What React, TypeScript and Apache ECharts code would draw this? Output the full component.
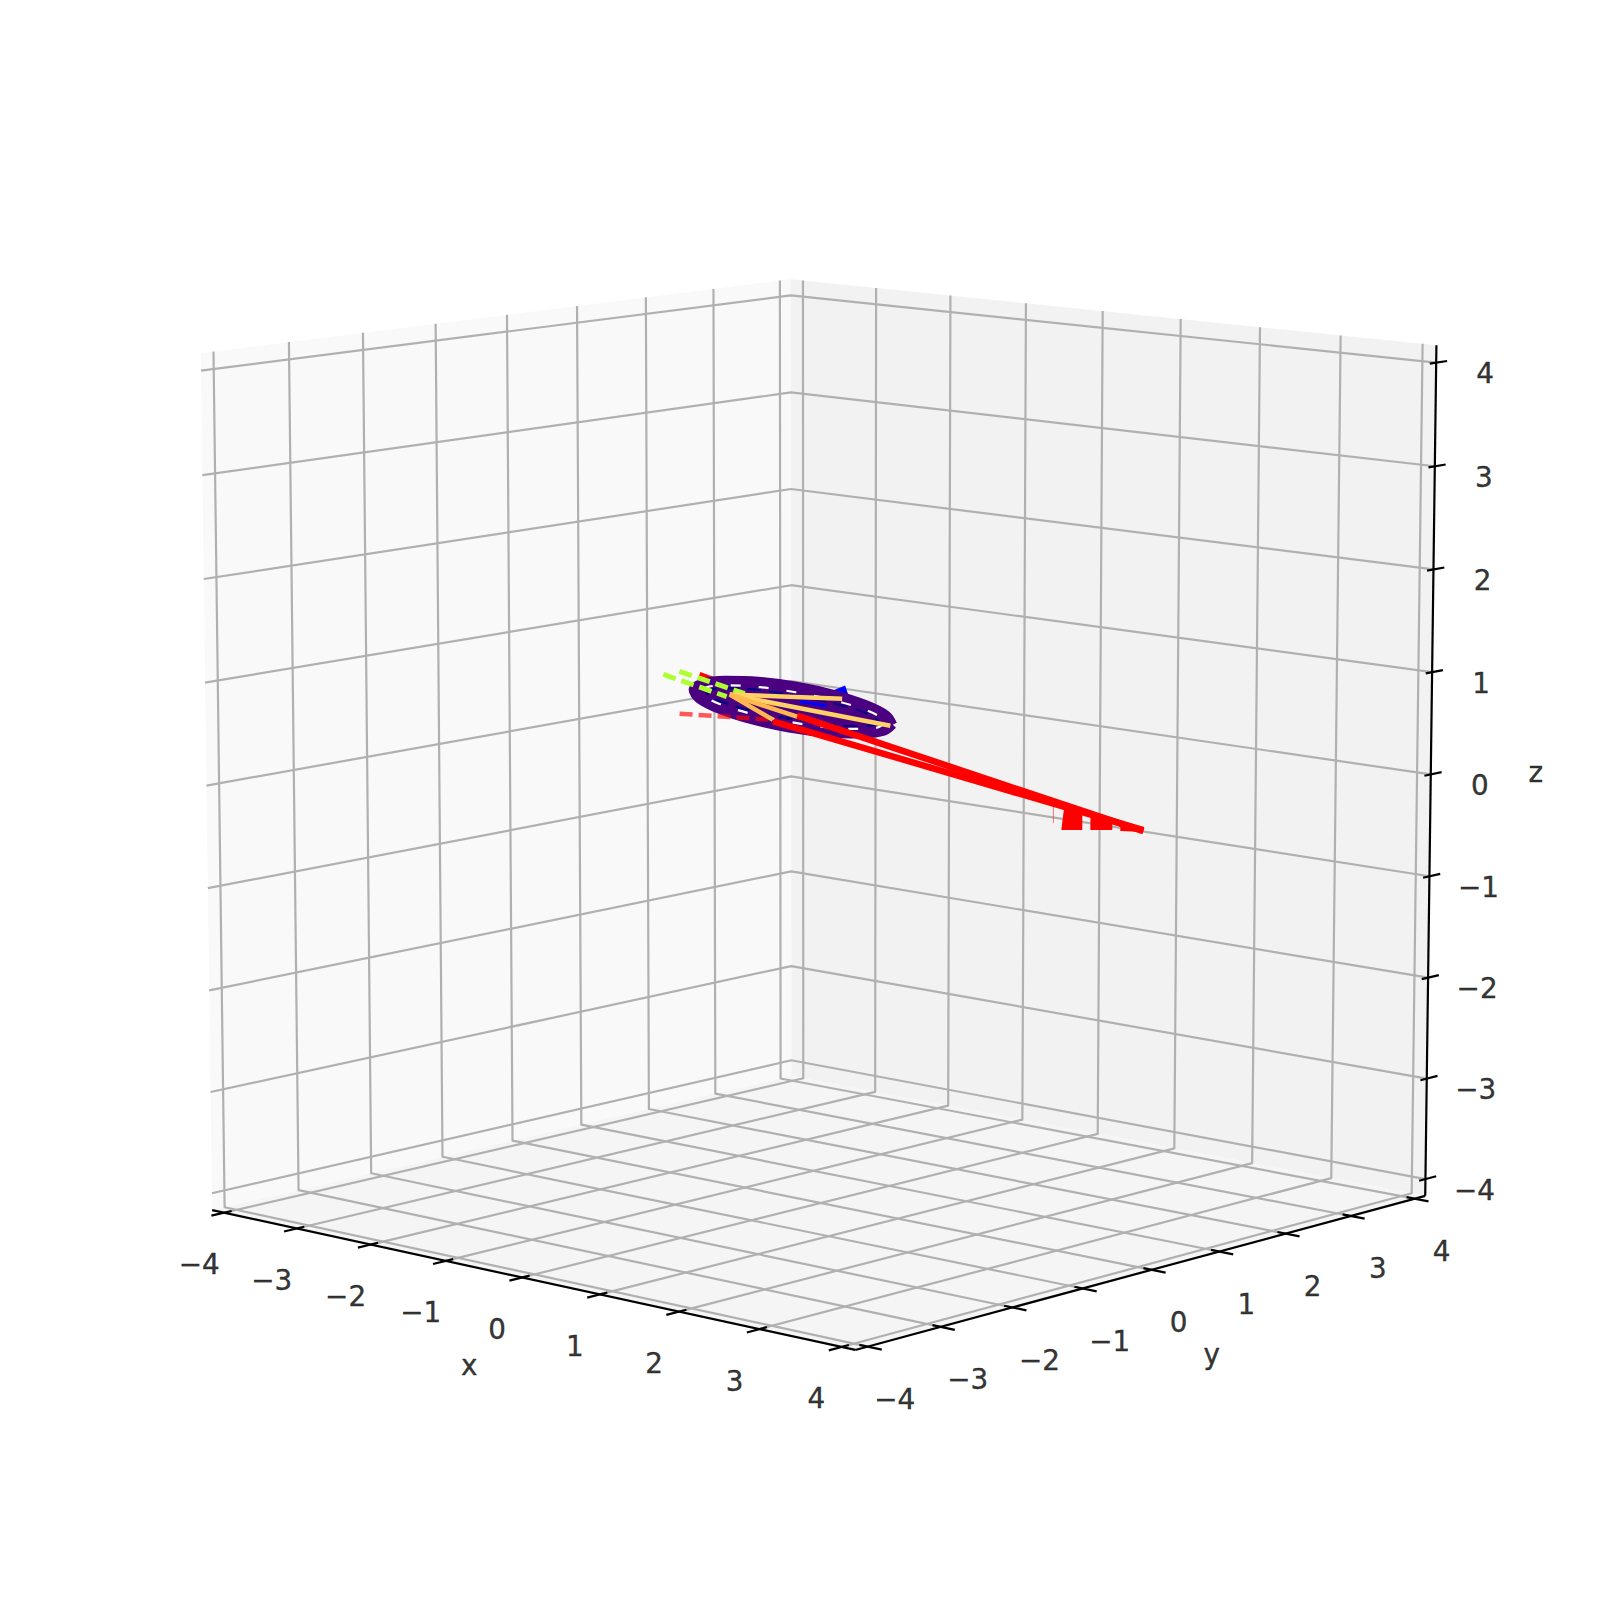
import React, { useEffect, useRef } from "react";
import * as echarts from "echarts";

// Axis ticks and labels
const tickValues = [-4, -3, -2, -1, 0, 1, 2, 3, 4];
const tickLabels = ["−4", "−3", "−2", "−1", "0", "1", "2", "3", "4"];

// All marks lie in the plane y = 0.9 x; each mark is listed as x and z values
const ringX = [0.533, 0.469, 0.306, 0.07, -0.205, -0.475, -0.7, -0.847, -0.891, -0.827, -0.664, -0.428, -0.153, 0.117, 0.342, 0.489];
const ringZ = [0.492, 0.427, 0.399, 0.409, 0.458, 0.539, 0.638, 0.74, 0.83, 0.895, 0.923, 0.913, 0.864, 0.783, 0.684, 0.582];
const whiteX = [0.477, 0.42, 0.272, 0.055, -0.198, -0.448, -0.656, -0.792, -0.835, -0.778, -0.63, -0.413, -0.16, 0.09, 0.298, 0.434];
const whiteZ = [0.505, 0.461, 0.449, 0.467, 0.516, 0.587, 0.668, 0.749, 0.817, 0.861, 0.873, 0.855, 0.806, 0.735, 0.654, 0.573];
const navyX = [0.435, 0.382, 0.244, 0.042, -0.194, -0.427, -0.624, -0.752, -0.793, -0.74, -0.602, -0.4, -0.164, 0.069, 0.266, 0.394];
const navyZ = [0.515, 0.482, 0.477, 0.498, 0.545, 0.61, 0.683, 0.752, 0.807, 0.84, 0.845, 0.824, 0.777, 0.712, 0.639, 0.57];

const blueHeadX = [0.193, 0.215, 0.072];
const blueHeadZ = [0.871, 0.783, 0.803];
const blueShaftX = [-0.129, 0.057];
const blueShaftZ = [0.715, 0.675];

const redThinX = [-0.845, -0.129];
const redThinZ = [0.979, 0.617];
const redInsideX = [-0.523, -0.308];
const redInsideZ = [0.783, 0.685];
const redUpperX = [-0.15, 2.327];
const redUpperZ = [0.578, -0.548];
const redLowerX = [-0.322, 2.327];
const redLowerZ = [0.523, -0.538];
const redDashX = [-0.988, -0.322];
const redDashZ = [0.597, 0.538];
const redFaintX = [1.683, 1.683];
const redFaintZ = [-0.313, -0.47];

const bar1X = [1.74, 1.89, 1.89, 1.761];
const bar1Z = [-0.538, -0.538, -0.362, -0.303];
const bar2X = [1.948, 2.105, 2.105, 1.948];
const bar2Z = [-0.538, -0.538, -0.441, -0.372];
const bar3X = [2.162, 2.327, 2.327, 2.162];
const bar3Z = [-0.548, -0.558, -0.529, -0.45];

const green1X = [-0.988, -0.523];
const green1Z = [1.008, 0.793];
const green2X = [-1.103, -0.652];
const green2Z = [0.979, 0.764];

const orangeHubX = -0.63;
const orangeHubZ = 0.783;
const orangeEndX = [0.172, 0.516, -0.15, -0.322];
const orangeEndZ = [0.744, 0.48, 0.568, 0.538];

// Camera
const ELEV = (10 * Math.PI) / 180;
const AZIM = (-48 * Math.PI) / 180;
const DIST = 10.8;
const WORLD = 0.1375;
const S = 8170;
const CX = 821;
const CY = 780;
const L = 4.167;
const PLANE_X = -0.021;
const PLANE_Z = 0.049;

const rx = -Math.sin(AZIM), ry = Math.cos(AZIM);
const ux = -Math.sin(ELEV) * Math.cos(AZIM), uy = -Math.sin(ELEV) * Math.sin(AZIM), uz = Math.cos(ELEV);
const vx = Math.cos(ELEV) * Math.cos(AZIM), vy = Math.cos(ELEV) * Math.sin(AZIM), vz = Math.sin(ELEV);

type P3 = [number, number, number];
function project([x, y, z]: P3): [number, number] {
  const a = x * WORLD, b = y * WORLD, c = z * WORLD;
  const u = rx * a + ry * b;
  const v = ux * a + uy * b + uz * c;
  const w = vx * a + vy * b + vz * c;
  return [CX + (S * u) / (DIST - w), CY - (S * v) / (DIST - w)];
}
const flat = (xs: number[], zs: number[]) =>
  xs.map((x, i) => project([x + PLANE_X, 0.9 * (x + PLANE_X), zs[i] + PLANE_Z]));
const closed = (pts: [number, number][]) => [...pts, pts[0]];

const GRID = "#b0b0b0";
const FONT = "DejaVu Sans";

function lineSeries(data: number[][], color: string, width: number, extra: any = {}) {
  return {
    type: "line", data, showSymbol: false, symbol: "none", clip: false, silent: true,
    lineStyle: { color, width, cap: "butt", join: "round", ...(extra.lineStyle || {}) },
    ...(extra.smooth ? { smooth: extra.smooth } : {}),
  };
}

function polygons(list: { pts: number[][]; fill: string }[]) {
  return {
    type: "custom", clip: false, silent: true,
    data: list.map((_, i) => [i]),
    renderItem: (params: any, api: any) => {
      const item = list[params.dataIndex];
      return { type: "polygon", shape: { points: item.pts.map((p) => api.coord(p)) }, style: { fill: item.fill } };
    },
  };
}

function textSeries(items: { pos: number[]; text: string }[]) {
  return {
    type: "scatter", symbolSize: 1, clip: false, silent: true,
    itemStyle: { color: "rgba(0,0,0,0)" },
    data: items.map((it) => ({
      value: it.pos,
      label: {
        show: true, position: "inside", formatter: it.text, color: "#000000",
        textBorderColor: "#000000", textBorderWidth: 0.4,
        fontFamily: FONT, fontSize: 27.8, align: "center", verticalAlign: "middle",
      },
    })),
  };
}

function buildOption() {
  const series: any[] = [];
  // Panes
  series.push(polygons([
    { pts: [[-L, -L, -L], [-L, L, -L], [-L, L, L], [-L, -L, L]].map((p) => project(p as P3)), fill: "#f9f9f9" },
    { pts: [[-L, L, -L], [L, L, -L], [L, L, L], [-L, L, L]].map((p) => project(p as P3)), fill: "#f2f2f2" },
    { pts: [[-L, -L, -L], [L, -L, -L], [L, L, -L], [-L, L, -L]].map((p) => project(p as P3)), fill: "#f5f5f5" },
  ]));
  // Grid
  tickValues.forEach((t) => {
    series.push(lineSeries([project([t, -L, -L]), project([t, L, -L]), project([t, L, L])], GRID, 2.2));
    series.push(lineSeries([project([L, t, -L]), project([-L, t, -L]), project([-L, t, L])], GRID, 2.2));
    series.push(lineSeries([project([-L, -L, t]), project([-L, L, t]), project([L, L, t])], GRID, 2.2));
  });
  // Axis lines
  series.push(lineSeries([project([-L, -L, -L]), project([L, -L, -L])], "#000", 2.2));
  series.push(lineSeries([project([L, -L, -L]), project([L, L, -L])], "#000", 2.2));
  series.push(lineSeries([project([L, L, -L]), project([L, L, L])], "#000", 2.2));
  // Ticks
  const OUT = 0.17, IN = 0.1;
  tickValues.forEach((t) => {
    series.push(lineSeries([project([t, -L - OUT, -L]), project([t, -L + IN, -L])], "#000", 2.2));
    series.push(lineSeries([project([L + OUT, t, -L]), project([L - IN, t, -L])], "#000", 2.2));
    series.push(lineSeries([project([L, L + OUT, t]), project([L, L - IN, t])], "#000", 2.2));
  });
  // Data: blue head and the thin red line sit under the ring
  series.push(polygons([{ pts: flat(blueHeadX, blueHeadZ), fill: "#0000ff" }]));
  series.push(lineSeries(flat(redThinX, redThinZ), "#ff0000", 5));
  const ring = flat(ringX, ringZ);
  series.push(polygons([{ pts: ring, fill: "#4b0082" }]));
  series.push(lineSeries(closed(ring), "#4b0082", 9, { smooth: 0.33 }));
  series.push(lineSeries(closed(flat(whiteX, whiteZ)), "#ffffff", 2.2, { smooth: 0.33, lineStyle: { type: [10, 18] } }));
  series.push(lineSeries(closed(flat(navyX, navyZ)), "#000080", 2, { smooth: 0.33, lineStyle: { type: [14, 8] } }));
  series.push(lineSeries(flat(blueShaftX, blueShaftZ), "#0000ff", 3));
  series.push(lineSeries(flat(redInsideX, redInsideZ), "#ff0000", 4));
  series.push(lineSeries(flat(redUpperX, redUpperZ), "#ff0000", 6.5));
  series.push(lineSeries(flat(redLowerX, redLowerZ), "#ff0000", 6.5));
  series.push(lineSeries(flat(redFaintX, redFaintZ), "rgba(255,0,0,0.5)", 1));
  series.push(polygons([
    { pts: flat(bar1X, bar1Z), fill: "#ff0000" },
    { pts: flat(bar2X, bar2Z), fill: "#ff0000" },
    { pts: flat(bar3X, bar3Z), fill: "#ff0000" },
  ]));
  series.push(lineSeries(flat(redDashX, redDashZ), "rgba(255,0,0,0.65)", 4.5, { lineStyle: { type: [13, 6] } }));
  series.push(lineSeries(flat(green1X, green1Z), "#adff2f", 5, { lineStyle: { type: [13, 6] } }));
  series.push(lineSeries(flat(green2X, green2Z), "#adff2f", 5, { lineStyle: { type: [13, 6] } }));
  orangeEndX.forEach((x, i) => {
    series.push(lineSeries(flat([orangeHubX, x], [orangeHubZ, orangeEndZ[i]]), i < 2 ? "#ffd166" : "#ffb84d", 4.5));
  });
  // Tick labels
  const labels: { pos: number[]; text: string }[] = [];
  tickValues.forEach((t, i) => {
    const a = project([t, -L, -L]);
    labels.push({ pos: [a[0] - 25, a[1] + 52], text: tickLabels[i] });
    const b = project([L, t, -L]);
    labels.push({ pos: [b[0] + 27, b[1] + 53], text: tickLabels[i] });
    const c = project([L, L, t]);
    labels.push({ pos: [c[0] + 49, c[1] + 11], text: tickLabels[i] });
  });
  const xl = project([0, -L, -L]);
  const yl = project([L, 0, -L]);
  const zl = project([L, L, 0]);
  labels.push({ pos: [xl[0] - 53, xl[1] + 88], text: "x" });
  labels.push({ pos: [yl[0] + 60, yl[1] + 85], text: "y" });
  labels.push({ pos: [zl[0] + 105, zl[1] - 2], text: "z" });
  series.push(textSeries(labels));
  series.forEach((s, i) => { s.z = i + 1; });

  return {
    animation: false,
    backgroundColor: "#ffffff",
    grid: { left: 0, right: 0, top: 0, bottom: 0 },
    xAxis: { type: "value", min: 0, max: 1600, show: false },
    yAxis: { type: "value", min: 0, max: 1600, inverse: true, show: false },
    series,
  };
}

export default function App() {
  const ref = useRef<HTMLDivElement>(null);
  useEffect(() => {
    const chart = echarts.init(ref.current!, undefined, { renderer: "svg" });
    chart.setOption(buildOption() as any);
    return () => chart.dispose();
  }, []);
  return <div ref={ref} style={{ position: "absolute", left: 0, top: 0, width: 1600, height: 1600 }} />;
}
